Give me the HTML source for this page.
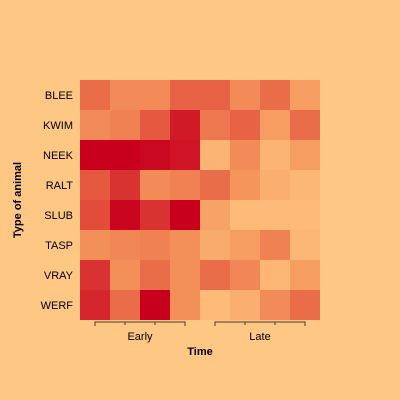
<!DOCTYPE html>
<html><head><meta charset="utf-8"><style>
body{margin:0;background:#FFC784}
svg{display:block;font-family:"Liberation Sans",sans-serif}
</style></head><body>
<svg id="c" width="400" height="400">
<rect width="400" height="400" fill="#FFC784"/>
</svg>
<script>
const rows=["BLEE","KWIM","NEEK","RALT","SLUB","TASP","VRAY","WERF"];
const groups=["Early","Late"];
const values=[
[.55,.4,.4,.6,.6,.4,.55,.3],
[.4,.45,.65,.9,.5,.6,.3,.55],
[1,1,.97,.92,.1,.4,.1,.3],
[.65,.8,.4,.45,.55,.35,.15,.08],
[.7,.98,.8,1,.25,.05,.05,.05],
[.38,.42,.45,.38,.18,.3,.45,.08],
[.8,.38,.55,.38,.55,.42,.08,.3],
[.85,.55,1,.38,.05,.15,.4,.55]];
const svg=document.getElementById('c');const NS='http://www.w3.org/2000/svg';
const x0=80,y0=80,cw=30,ch=30;
const xs=i=>x0+i*cw, ys=j=>y0+j*ch;
const stops=[[0,[254,192,126]],[.33,[245,153,94]],[.66,[229,87,63]],[1,[200,0,30]]];
function col(v){for(let k=1;k<stops.length;k++){if(v<=stops[k][0]){const a=stops[k-1],b=stops[k],t=(v-a[0])/(b[0]-a[0]);return 'rgb('+a[1].map((c,i)=>Math.round(c+(b[1][i]-c)*t)).join(',')+')';}}return 'rgb(200,0,30)';}
function el(t,a,txt){const e=document.createElementNS(NS,t);for(const k in a)e.setAttribute(k,a[k]);if(txt)e.textContent=txt;svg.appendChild(e);return e;}
values.forEach((r,j)=>r.forEach((v,i)=>{
const e=el('rect',{x:xs(i),y:ys(j),width:cw,height:ch,fill:col(v)});


}));
rows.forEach((r,j)=>{const t=el('text',{x:73,y:ys(j)+ch/2+4,'text-anchor':'end','font-size':11},r);

});
groups.forEach((g,k)=>{const a=xs(k*4)+15,b=xs(k*4+3)+15;
let d='M'+a+' 326 V322 H'+b+' V326';for(let i=1;i<3;i++)d+=' M'+(a+i*30)+' 322 V325';
const p=el('path',{d:d,stroke:'#6b5a45','stroke-width':1.3,fill:'none'});


const t=el('text',{x:(a+b)/2,y:340,'text-anchor':'middle','font-size':11},g);

});
const xt=el('text',{x:200,y:355,'text-anchor':'middle','font-size':11,'font-weight':'bold'},'Time');


const yt=el('text',{x:0,y:0,transform:'translate(21,200) rotate(-90)','text-anchor':'middle','font-size':11,'font-weight':'bold'},'Type of animal');


</script>
</body></html>
